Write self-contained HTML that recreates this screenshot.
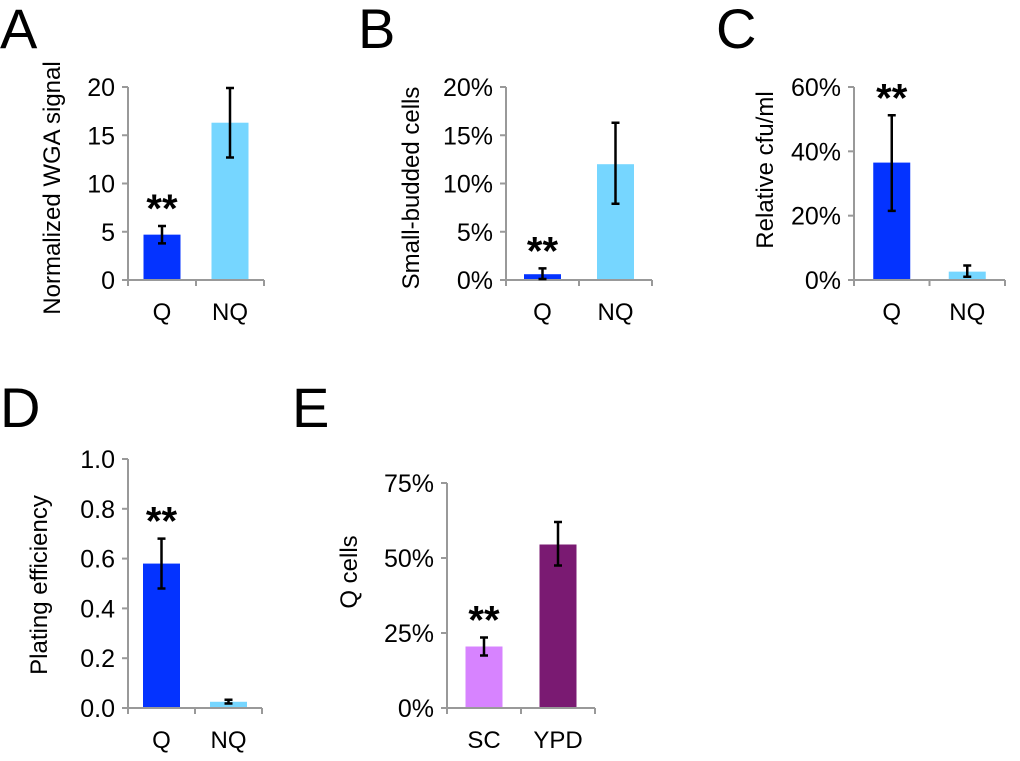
<!DOCTYPE html>
<html><head><meta charset="utf-8"><style>
html,body{margin:0;padding:0;background:#fff;}
svg{display:block;font-family:"Liberation Sans",Arial,sans-serif;}
</style></head><body>
<svg id="fig" width="1020" height="761" viewBox="0 0 1020 761"></svg>
<script>
// Panel A
const catsA = ["Q", "NQ"];
const valsA = [4.7, 16.3];
const errLoA = [3.8, 12.7];
const errHiA = [5.6, 19.9];
const ticksA = [0, 5, 10, 15, 20];
const tickLabelsA = ["0", "5", "10", "15", "20"];
// Panel B
const catsB = ["Q", "NQ"];
const valsB = [0.6, 12.0];
const errLoB = [0.1, 7.9];
const errHiB = [1.2, 16.3];
const ticksB = [0, 5, 10, 15, 20];
const tickLabelsB = ["0%", "5%", "10%", "15%", "20%"];
// Panel C
const catsC = ["Q", "NQ"];
const valsC = [36.5, 2.6];
const errLoC = [21.5, 1.0];
const errHiC = [51.2, 4.5];
const ticksC = [0, 20, 40, 60];
const tickLabelsC = ["0%", "20%", "40%", "60%"];
// Panel D
const catsD = ["Q", "NQ"];
const valsD = [0.58, 0.025];
const errLoD = [0.48, 0.018];
const errHiD = [0.68, 0.033];
const ticksD = [0, 0.2, 0.4, 0.6, 0.8, 1.0];
const tickLabelsD = ["0.0", "0.2", "0.4", "0.6", "0.8", "1.0"];
// Panel E
const catsE = ["SC", "YPD"];
const valsE = [20.5, 54.5];
const errLoE = [17.5, 47.5];
const errHiE = [23.5, 62.0];
const ticksE = [0, 25, 50, 75];
const tickLabelsE = ["0%", "25%", "50%", "75%"];

const NS = "http://www.w3.org/2000/svg";
const svg = document.getElementById("fig");
function mk(tag, attrs, parent) {
  const e = document.createElementNS(NS, tag);
  for (const k in attrs) e.setAttribute(k, attrs[k]);
  (parent || svg).appendChild(e);
  return e;
}

function panel(p) {
  const g = mk("g", {});
  
  
  const ymax = p.ticks[p.ticks.length - 1];
  const y = v => p.y0 - (v / ymax) * (p.y0 - p.y1);
  const step = (p.xEnd - p.ax) / p.cats.length;
  const xc = i => p.ax + step * (i + 0.5);

  const L = mk("text", {x: p.lx, y: p.ly, "font-size": 56, fill: "#000"}, g);
  L.textContent = p.id;
  
  

  p.vals.forEach((v, i) => {
    const r = mk("rect", {x: xc(i) - 18.5, y: y(v), width: 37, height: p.y0 - y(v), fill: p.colors[i]}, g);
    
    
  });
  const ya = mk("line", {x1: p.ax, y1: p.y1, x2: p.ax, y2: p.y0, stroke: "#999", "stroke-width": 2}, g);
  
  
  const xa = mk("line", {x1: p.ax - 6, y1: p.y0, x2: p.xEnd, y2: p.y0, stroke: "#999", "stroke-width": 2}, g);
  
  
  for (let i = 0; i <= p.cats.length; i++) {
    const xx = p.ax + step * i;
    mk("line", {x1: xx, y1: p.y0, x2: xx, y2: p.y0 + 6, stroke: "#999", "stroke-width": 2}, g);
  }
  p.ticks.forEach((t, i) => {
    mk("line", {x1: p.ax - 6, y1: y(t), x2: p.ax, y2: y(t), stroke: "#999", "stroke-width": 2}, g);
    const tl = mk("text", {x: p.ax - 13, y: y(t) + 9, "font-size": 25, "text-anchor": "end", fill: "#000"}, g);
    tl.textContent = p.tickLabels[i];
    
    
  });
  p.vals.forEach((v, i) => {
    const x = xc(i), lo = y(p.lo[i]), hi = y(p.hi[i]);
    const e = mk("path", {d: `M${x},${lo}V${hi}M${x-4},${lo}H${x+4}M${x-4},${hi}H${x+4}`, stroke: "#000", "stroke-width": 2.5, fill: "none"}, g);
    
    
  });
  const st = mk("text", {x: xc(0), y: y(p.hi[0]) - 12 + 20, "font-size": 40, "font-weight": "bold", "text-anchor": "middle", fill: "#000"}, g);
  st.textContent = "**";
  
  
  st.setAttribute('y', y(p.hi[0]) - 12);
  st.setAttribute('dominant-baseline', 'auto');
  st.setAttribute('transform', `translate(0,${8})`);
  p.cats.forEach((c, i) => {
    const t = mk("text", {x: xc(i), y: p.y0 + 40, "font-size": 24, "text-anchor": "middle", fill: "#000"}, g);
    t.textContent = c;
    
    
  });
  const ti = mk("text", {x: 0, y: 0, "font-size": 24, "text-anchor": "middle", fill: "#000", transform: `translate(${p.tx},${p.ty}) rotate(-90)`}, g);
  ti.textContent = p.title;
  
  
}

const blue = "#0433ff", light = "#76d6ff";
panel({id: "A", lx: 0, ly: 48, ax: 128, xEnd: 264, y0: 280, y1: 87, cats: catsA, vals: valsA, lo: errLoA, hi: errHiA, ticks: ticksA, tickLabels: tickLabelsA, colors: [blue, light], title: "Normalized WGA signal", tx: 60, ty: 188});
panel({id: "B", lx: 358, ly: 48, ax: 506, xEnd: 652, y0: 280, y1: 87, cats: catsB, vals: valsB, lo: errLoB, hi: errHiB, ticks: ticksB, tickLabels: tickLabelsB, colors: [blue, light], title: "Small-budded cells", tx: 419, ty: 188});
panel({id: "C", lx: 716, ly: 48, ax: 854, xEnd: 1005, y0: 280, y1: 87, cats: catsC, vals: valsC, lo: errLoC, hi: errHiC, ticks: ticksC, tickLabels: tickLabelsC, colors: [blue, light], title: "Relative cfu/ml", tx: 773, ty: 170});
panel({id: "D", lx: 0, ly: 427, ax: 128, xEnd: 262, y0: 708, y1: 459, cats: catsD, vals: valsD, lo: errLoD, hi: errHiD, ticks: ticksD, tickLabels: tickLabelsD, colors: [blue, light], title: "Plating efficiency", tx: 47, ty: 585});
panel({id: "E", lx: 292, ly: 427, ax: 447, xEnd: 595, y0: 708, y1: 483, cats: catsE, vals: valsE, lo: errLoE, hi: errHiE, ticks: ticksE, tickLabels: tickLabelsE, colors: ["#d783ff", "#7a1a72"], title: "Q cells", tx: 357, ty: 572});
</script>
</body></html>
